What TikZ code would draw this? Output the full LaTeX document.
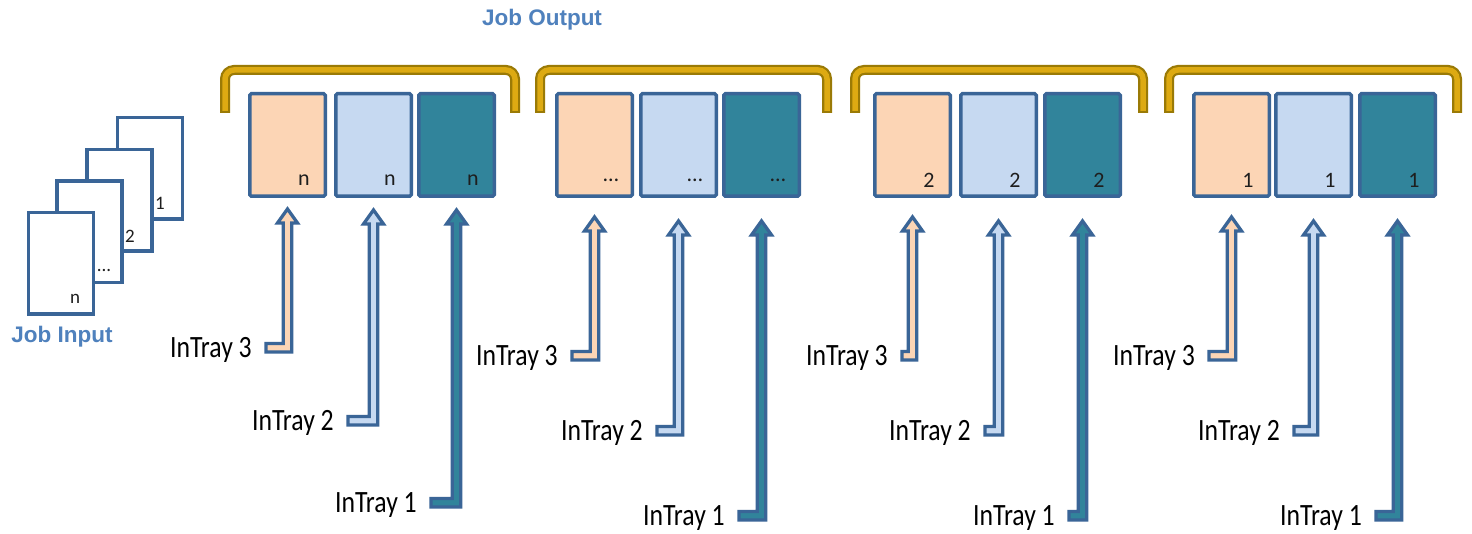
\documentclass[tikz,border=0pt]{standalone}
\usepackage{fontspec}
\usepackage{graphicx}
\setmainfont{Carlito}
\newfontfamily\arialb{Liberation Sans}
\usetikzlibrary{calc}
\definecolor{peachc}{HTML}{FCD5B5}
\definecolor{lbluec}{HTML}{C6D9F1}
\definecolor{tealc}{HTML}{31849B}
\definecolor{borderc}{HTML}{3A6597}
\definecolor{titlec}{HTML}{4F81BD}
\definecolor{golddark}{HTML}{9A7A06}
\definecolor{goldc}{HTML}{DDAA12}
\definecolor{numc}{HTML}{1E1E1E}
\tikzset{
  tray/.style={draw=borderc,line width=3.5pt,rounded corners=1.5pt,minimum width=75.5pt,minimum height=102.5pt,inner sep=0pt},
  page/.style={draw=borderc,line width=3.5pt,fill=white,minimum width=65pt,minimum height=101.5pt,inner sep=0pt},
  num/.style={text=numc,font=\fontsize{22}{22}\selectfont,inner sep=0pt},
  pnum/.style={text=numc,font=\fontsize{19}{19}\selectfont,inner sep=0pt},
  traylabel/.style={anchor=east,inner sep=0pt,text=black,font=\fontsize{31}{31}\selectfont},
  title/.style={text=titlec,font=\arialb\bfseries\fontsize{22.5}{22.5}\selectfont,inner sep=0pt},
  tarrow/.style={draw=borderc,line width=3.3pt,line join=miter},
  bracketout/.style={draw=golddark,line width=10pt,rounded corners=9pt},
  bracketin/.style={draw=goldc,line width=5.5pt,rounded corners=9pt}
}
\newcommand\trayarrow[4]{%
  \path[tarrow,fill=#3] let \p1=(#1.south), \p2=(#2.east) in
   (\x1,\y1-#4) -- (\x1+10pt,\y1-#4-14pt) -- (\x1+4.2pt,\y1-#4-14pt)
   -- (\x1+4.2pt,\y2-2pt) -- (\x2+14pt,\y2-2pt) -- (\x2+14pt,\y2+6.5pt)
   -- (\x1-4.2pt,\y2+6.5pt) -- (\x1-4.2pt,\y1-#4-14pt) -- (\x1-10pt,\y1-#4-14pt) -- cycle;}
\newcommand\tl[1]{\scalebox{0.83}[1]{#1}}
\begin{document}
\begin{tikzpicture}[x=1pt,y=-1pt]
\useasboundingbox[fill=white] (0,0) rectangle (1472,534);

% Job input pages (back to front)
\node[page] (p1) at (150,168.5) {};
\node[pnum] (p1t) at (160,203) {1};
\node[page] (p2) at (119.3,200.2) {};
\node[pnum] (p2t) at (130,236) {2};
\node[page] (p3) at (89.7,231.8) {};
\node[pnum] (p3t) at (104,270) {...};
\node[page] (p4) at (61,263.5) {};
\node[pnum] (p4t) at (75,299) {n};
\node[title] (jin) at (62,337) {Job Input};
\node[title] (jout) at (542,20) {Job Output};

% output groups
\foreach \g/\xa/\xb/\xc/\bl/\br/\t in {1/248/334/417/225/515/n, 2/555/639/722/540/827/\ldots, 3/873/959/1043/855/1143/2, 4/1192/1274/1358/1169/1457/1}{
  \draw[bracketout] (\bl,113) -- (\bl,70) -- (\br,70) -- (\br,113);
  \draw[bracketin] (\bl,111) -- (\bl,70) -- (\br,70) -- (\br,111);
  \node[tray,fill=peachc] (b\g c) at (\xa+39.5,145) {};
  \node[tray,fill=lbluec] (b\g b) at (\xb+39.5,145) {};
  \node[tray,fill=tealc] (b\g a) at (\xc+39.5,145) {};
  \node[num] (n\g c) at (\xa+56,180) {\t};
  \node[num] (n\g b) at (\xb+56,180) {\t};
  \node[num] (n\g a) at (\xc+56,180) {\t};
}

% tray labels
\node[traylabel] (l1c) at (252,350) {\tl{InTray 3}};
\node[traylabel] (l1b) at (334,423) {\tl{InTray 2}};
\node[traylabel] (l1a) at (417,505) {\tl{InTray 1}};
\node[traylabel] (l2c) at (558,358) {\tl{InTray 3}};
\node[traylabel] (l2b) at (643,433) {\tl{InTray 2}};
\node[traylabel] (l2a) at (725,518) {\tl{InTray 1}};
\node[traylabel] (l3c) at (888,358) {\tl{InTray 3}};
\node[traylabel] (l3b) at (971,433) {\tl{InTray 2}};
\node[traylabel] (l3a) at (1055,518) {\tl{InTray 1}};
\node[traylabel] (l4c) at (1195,358) {\tl{InTray 3}};
\node[traylabel] (l4b) at (1280,433) {\tl{InTray 2}};
\node[traylabel] (l4a) at (1362,518) {\tl{InTray 1}};

% arrows
\trayarrow{b1c}{l1c}{peachc}{11pt}
\trayarrow{b1b}{l1b}{lbluec}{12pt}
\trayarrow{b1a}{l1a}{tealc}{12pt}
\foreach \g in {2,3,4}{
  \trayarrow{b\g c}{l\g c}{peachc}{19pt}
  \trayarrow{b\g b}{l\g b}{lbluec}{23pt}
  \trayarrow{b\g a}{l\g a}{tealc}{23pt}
}
\end{tikzpicture}
\end{document}
